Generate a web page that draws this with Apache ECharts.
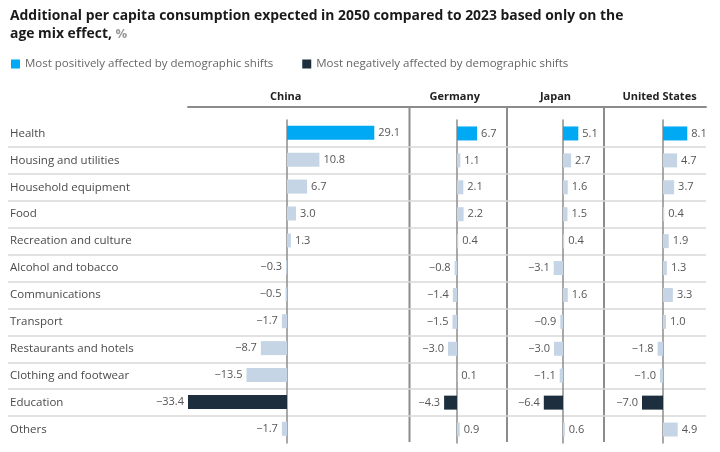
<!DOCTYPE html>
<html>
<head>
<meta charset="utf-8">
<script src="https://cdn.jsdelivr.net/npm/echarts@6/dist/echarts.min.js"></script>
<style>
  html, body { margin: 0; padding: 0; background: #fff; }
  #chart { width: 720px; height: 452px; }
</style>
</head>
<body>
<div id="chart"></div>
<script>
const categories = [
  'Health', 'Housing and utilities', 'Household equipment', 'Food', 'Recreation and culture',
  'Alcohol and tobacco', 'Communications', 'Transport', 'Restaurants and hotels',
  'Clothing and footwear', 'Education', 'Others'
];
const countries = ['China', 'Germany', 'Japan', 'United States'];
const china = [29.1, 10.8, 6.7, 3.0, 1.3, -0.3, -0.5, -1.7, -8.7, -13.5, -33.4, -1.7];
const germany = [6.7, 1.1, 2.1, 2.2, 0.4, -0.8, -1.4, -1.5, -3.0, 0.1, -4.3, 0.9];
const japan = [5.1, 2.7, 1.6, 1.5, 0.4, -3.1, 1.6, -0.9, -3.0, -1.1, -6.4, 0.6];
const unitedStates = [8.1, 4.7, 3.7, 0.4, 1.9, 1.3, 3.3, 1.0, -1.8, -1.0, -7.0, 4.9];
const mostPositive = 'Health';
const mostNegative = 'Education';
const legendLabels = [
  'Most positively affected by demographic shifts',
  'Most negatively affected by demographic shifts'
];

const values = [china, germany, japan, unitedStates];
const FONT = '"Open Sans", "Liberation Sans", Arial, sans-serif';
const COLOR_POS = '#00a9f4';
const COLOR_NEG = '#1d2f3e';
const COLOR_BAR = '#c6d5e6';

// panel layout in px: left edge, zero line, right edge (3 px per percentage point)
const SCALE = 3;
const panels = [
  { left: 188, zero: 287, right: 409.5, namePad: [0, 26, 0, 0] },
  { left: 409.5, zero: 457, right: 507, namePad: [0, 7, 0, 0] },
  { left: 507, zero: 563, right: 604, namePad: [0, 0, 0, 0] },
  { left: 604, zero: 663, right: 706, namePad: [0, 0, 0, 9] }
];
const TOP = 120;
const HEIGHT = 323;

const chart = echarts.init(document.getElementById('chart'));

function fmt(v) {
  return v < 0 ? '\u2212' + Math.abs(v).toFixed(1) : v.toFixed(1);
}

function barColor(cat) {
  if (cat === mostPositive) return COLOR_POS;
  if (cat === mostNegative) return COLOR_NEG;
  return COLOR_BAR;
}

const grids = [
  // row separator lines
  { left: 8, width: 698, top: TOP + HEIGHT / 12, height: HEIGHT * 10 / 12 },
  // category labels
  { left: 10, width: 1, top: TOP, height: HEIGHT }
];
const xAxes = [
  { gridIndex: 0, type: 'value', show: false },
  { gridIndex: 1, type: 'value', show: false }
];
const yAxes = [
  {
    gridIndex: 0, type: 'value', min: 0, max: 10, interval: 1,
    axisLine: { show: false }, axisTick: { show: false }, axisLabel: { show: false },
    splitLine: { show: true, lineStyle: { color: '#d9d9d9', width: 1.5 } }
  },
  {
    gridIndex: 1, type: 'category', data: categories, inverse: true,
    axisLine: { show: false }, axisTick: { show: false }, splitLine: { show: false },
    axisLabel: { align: 'left', margin: 0, fontSize: 11.5, color: '#4a4a4a', fontFamily: FONT }
  }
];
const series = [];

panels.forEach((p, i) => {
  const gi = i + 2;
  grids.push({ left: p.left, width: p.right - p.left, top: TOP, height: HEIGHT });
  xAxes.push({
    gridIndex: gi, type: 'value', position: 'top', offset: 13.5,
    min: (p.left - p.zero) / SCALE, max: (p.right - p.zero) / SCALE,
    name: countries[i], nameLocation: 'middle', nameGap: 4,
    nameTextStyle: { fontSize: 11, fontWeight: 'bold', color: '#222', fontFamily: FONT, padding: p.namePad },
    axisLine: { show: true, lineStyle: { color: '#8c8c8c', width: 2 } },
    axisTick: { show: false }, axisLabel: { show: false }, splitLine: { show: false }
  });
  yAxes.push({
    gridIndex: gi, type: 'category', data: categories, inverse: true,
    axisLine: { show: true, onZero: true, lineStyle: { color: '#8c8c8c', width: 1.5 } },
    axisTick: { show: false }, axisLabel: { show: false }, splitLine: { show: false }
  });
  series.push({
    name: countries[i], type: 'bar', xAxisIndex: gi, yAxisIndex: gi,
    barWidth: 14, silent: true,
    data: values[i].map((v, k) => ({
      value: v,
      itemStyle: { color: barColor(categories[k]) },
      label: { position: v < 0 ? 'left' : 'right' }
    })),
    label: {
      show: true, distance: 4, fontSize: 11, color: '#555', fontFamily: FONT,
      formatter: (d) => fmt(d.value)
    }
  });
});

// legend-only series
series.push(
  { name: legendLabels[0], type: 'bar', xAxisIndex: 2, yAxisIndex: 2, data: [], itemStyle: { color: COLOR_POS } },
  { name: legendLabels[1], type: 'bar', xAxisIndex: 2, yAxisIndex: 2, data: [], itemStyle: { color: COLOR_NEG } }
);

// column separators
const separators = panels.slice(1).map((p) => ({
  type: 'line', silent: true,
  shape: { x1: p.left, y1: 106, x2: p.left, y2: 442 },
  style: { stroke: '#8c8c8c', lineWidth: 2 }
}));

chart.setOption({
  animation: false,
  textStyle: { fontFamily: FONT },
  title: {
    left: 10, top: 7, padding: 0,
    text: '{b|Additional per capita consumption expected in 2050 compared to 2023 based only on the}\n{b|age mix effect, }{g|%}',
    textStyle: {
      rich: {
        b: { fontSize: 13.9, fontWeight: 'bold', color: '#1a1a1a', lineHeight: 18, fontFamily: FONT },
        g: { fontSize: 13, color: '#9a9a9a', lineHeight: 18, fontFamily: FONT }
      }
    }
  },
  legend: {
    left: 11, top: 58, padding: 0, itemWidth: 9, itemHeight: 9, itemGap: 29, icon: 'rect',
    selectedMode: false,
    data: legendLabels,
    textStyle: { fontSize: 11.5, color: '#666', fontFamily: FONT }
  },
  grid: grids,
  xAxis: xAxes,
  yAxis: yAxes,
  series: series,
  graphic: separators
});
</script>
</body>
</html>
